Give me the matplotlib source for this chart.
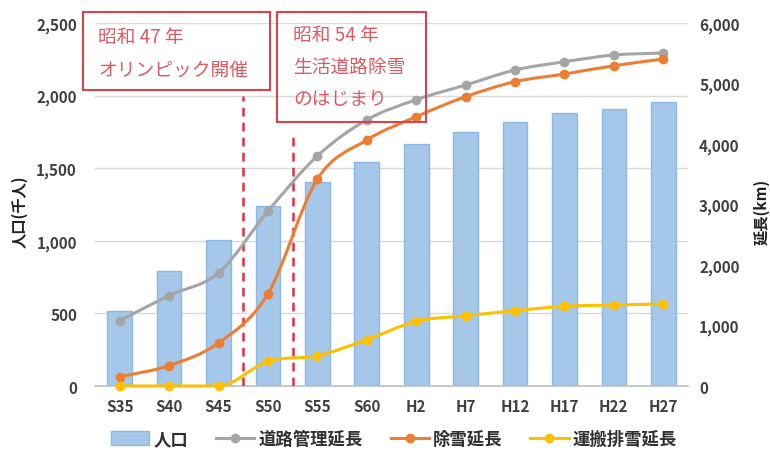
import matplotlib
matplotlib.use("Agg")
import matplotlib.pyplot as plt
from matplotlib.path import Path
from matplotlib.patches import PathPatch, Rectangle, Patch
from matplotlib.lines import Line2D
from matplotlib.ticker import FuncFormatter

plt.rcParams["font.family"] = ["Noto Sans CJK JP", "DejaVu Sans"]

# データ
years = ["S35", "S40", "S45", "S50", "S55", "S60", "H2", "H7", "H12", "H17", "H22", "H27"]
population = [515, 790, 1005, 1240, 1405, 1543, 1667, 1752, 1821, 1877, 1908, 1955]
road_length = [1080, 1495, 1870, 2890, 3802, 4400, 4732, 4975, 5223, 5360, 5471, 5504]
snow_length = [150, 338, 712, 1525, 3421, 4066, 4451, 4782, 5030, 5157, 5294, 5405]
haul_length = [0, 0, 0, 408, 501, 765, 1069, 1162, 1245, 1317, 1339, 1355]

W, H = 770, 456
TEXT = "#404040"
RED = "#e03040"


def px(x, y):
    return x / W, 1 - y / H


def smooth_path(xs, ys):
    # Excel風のスムージング線（平らな区間ではオーバーシュートしない）
    n = len(xs)
    tang = []
    for i in range(n):
        a, b = max(i - 1, 0), min(i + 1, n - 1)
        flat = (i > 0 and ys[i] == ys[i - 1]) or (i < n - 1 and ys[i] == ys[i + 1])
        tang.append(0.0 if flat else (ys[b] - ys[a]) / (xs[b] - xs[a]))
    verts, codes = [(xs[0], ys[0])], [Path.MOVETO]
    for i in range(n - 1):
        dx = (xs[i + 1] - xs[i]) / 3
        verts += [(xs[i] + dx, ys[i] + tang[i] * dx),
                  (xs[i + 1] - dx, ys[i + 1] - tang[i + 1] * dx),
                  (xs[i + 1], ys[i + 1])]
        codes += [Path.CURVE4] * 3
    return Path(verts, codes)


fig = plt.figure(figsize=(W / 100, H / 100), dpi=100)
ax = fig.add_axes([95 / W, 1 - 387 / H, (688 - 95) / W, (387 - 24) / H])
ax2 = ax.twinx()

x = list(range(len(years)))
ax.bar(x, population, width=0.5, color="#a4c7ea", edgecolor="#8cb8e2", lw=1, zorder=2)
ax.set_xlim(-0.5, len(years) - 0.5)
ax.set_ylim(0, 2500)
ax.set_yticks(range(0, 2501, 500))
ax.yaxis.grid(True, color="#d9d9d9", lw=1, zorder=0)
ax.set_axisbelow(True)
ax.set_xticks(x)
ax.set_xticklabels(years)

# 縦の破線
ax.plot([2.5, 2.5], [0, 1998], ls=(0, (3.5, 2.5)), color=RED, lw=1.8, zorder=3)
ax.plot([3.5, 3.5], [0, 1750], ls=(0, (3.5, 2.5)), color=RED, lw=1.8, zorder=3)

series = [
    (road_length, "#a5a5a5", "道路管理延長"),
    (snow_length, "#ed7d31", "除雪延長"),
    (haul_length, "#ffc000", "運搬排雪延長"),
]
for vals, color, label in series:
    ax2.add_patch(PathPatch(smooth_path(x, vals), fill=False, edgecolor=color,
                            lw=2.2, capstyle="round", zorder=3, clip_on=False))
    ax2.plot(x, vals, "o", color=color, ms=6, zorder=4, clip_on=False)
ax2.set_ylim(0, 6000)
ax2.set_yticks(range(0, 6001, 1000))

fmt = FuncFormatter(lambda v, p: f"{int(v):,}")
for a in (ax, ax2):
    a.yaxis.set_major_formatter(fmt)
    for s in a.spines.values():
        s.set_visible(False)
    a.tick_params(length=0, colors=TEXT, labelsize=11)
    for lab in a.get_xticklabels() + a.get_yticklabels():
        lab.set_fontweight("bold")
ax.spines["bottom"].set_visible(True)
ax.spines["bottom"].set_color("#bfbfbf")
ax.spines["bottom"].set_linewidth(1.2)
ax.tick_params(axis="y", pad=13)
ax.tick_params(axis="x", pad=9)
ax2.tick_params(axis="y", pad=8)

fig.text(*px(20, 212), "人口(千人)", rotation=90, ha="center", va="center",
         fontsize=11, fontweight="bold", color="#202020")
fig.text(*px(762, 212), "延長(km)", rotation=90, ha="center", va="center",
         fontsize=11, fontweight="bold", color="#202020")

# 注記ボックス
for (x0, y0, x1, y1) in [(83, 13, 270, 91), (277, 13, 426, 123)]:
    fig.add_artist(Rectangle(px(x0, y1), (x1 - x0) / W, (y1 - y0) / H,
                             transform=fig.transFigure, fill=False,
                             edgecolor="#d9434f", lw=1.5))
notes = [
    (98, 37, "昭和 47 年"), (98, 70, "オリンピック開催"),
    (293, 36, "昭和 54 年"), (293, 68, "生活道路除雪"), (293, 100, "のはじまり"),
]
for nx, ny, s in notes:
    fig.text(*px(nx, ny), s, ha="left", va="center", fontsize=13.5, color="#dc5a62")

handles = [Patch(facecolor="#a4c7ea", edgecolor="#8cb8e2", label="人口")]
for vals, color, label in series:
    handles.append(Line2D([], [], color=color, lw=2.2, marker="o", ms=6, label=label))
fig.legend(handles=handles, loc="center", bbox_to_anchor=px(394, 440), ncol=4,
           frameon=False, handlelength=2.2, handleheight=0.8, columnspacing=1.6,
           handletextpad=0.25, prop={"size": 12.5, "weight": "bold"},
           labelcolor="#303030")

fig.savefig("out.png", dpi=100)
